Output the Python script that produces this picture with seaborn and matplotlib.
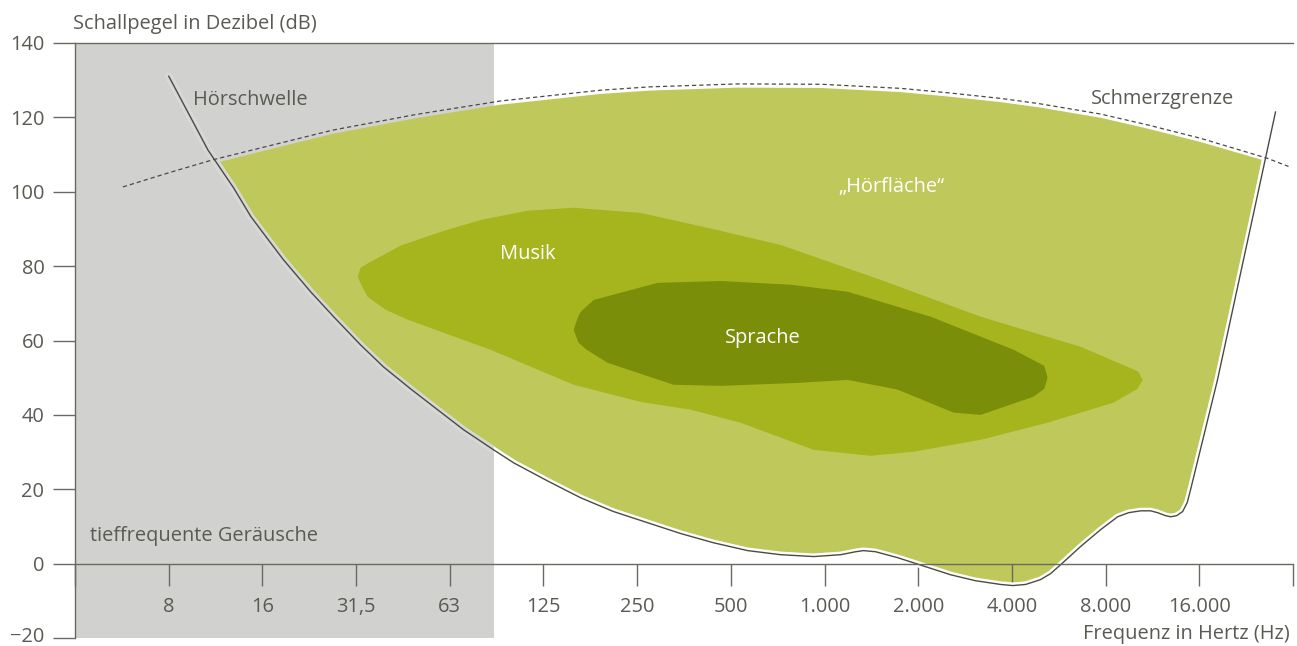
import numpy as np
import pandas as pd
import matplotlib.pyplot as plt
import matplotlib.transforms as mtransforms
import seaborn as sns
from matplotlib.ticker import NullLocator

# Hörschwelle (threshold of hearing)
hs_hz = np.array([8.0, 10.7, 12.94, 14.7, 16.64, 18.7, 22.87, 27.1, 33.1, 39.2, 47.9,
                  56.8, 70.9, 88.5, 102.7, 132.2, 168.6, 215, 276.6, 353, 450.7, 580,
                  739.7, 945, 1154, 1289, 1367, 1493, 1758, 2069, 2603, 3130, 3767,
                  4116, 4535, 5063, 5450, 5872, 6808, 7887, 8953, 9710, 10615, 11420,
                  12035, 12760, 13252, 13860, 14480, 14980, 15360, 18740, 28800])
hs_db = np.array([131.1, 111.2, 101.0, 93.3, 87.3, 81.7, 73.1, 66.4, 58.8, 52.9, 47.0,
                  42.2, 36.0, 30.6, 27.1, 22.2, 17.7, 14.0, 11.0, 8.1, 5.6, 3.5,
                  2.4, 1.9, 2.4, 3.2, 3.5, 3.2, 1.6, -0.3, -3.0, -4.6, -5.6,
                  -5.9, -5.6, -4.3, -2.7, -0.3, 4.6, 9.1, 12.6, 13.7, 14.2, 14.2,
                  13.7, 12.9, 12.6, 12.9, 14.0, 16.4, 19.9, 49.4, 121.5])

# Schmerzgrenze (threshold of pain)
pain_hz = np.array([5.7, 8, 11.1, 16, 27, 50, 93, 195, 280, 540, 1000, 1800, 2560,
                    3770, 5000, 7890, 11150, 16500, 27100, 31700])
pain_db = np.array([101.3, 105.1, 108.6, 111.9, 116.6, 120.8, 124.4, 127.3, 128.2,
                    129.0, 128.9, 127.8, 126.6, 125.1, 123.7, 120.9, 118.0, 114.4,
                    109.0, 106.8])

# corners of the "Hörfläche"
hf_corner_hz = [11.4, 26000]
hf_corner_db = [107.8, 108.6]

# Musik area outline
musik_hz = [32.4, 33.1, 35.7, 44.5, 59.8, 80.4, 113.8, 160, 262.6, 431.1, 739.7, 1551,
            3250, 6808, 9640, 10450, 10770, 10370, 8690, 5333, 3250, 1979, 1440, 945,
            740, 550, 380, 262.6, 160, 86.6, 46.9, 39.8, 34.9, 33.6]
musik_db = [77.1, 79.6, 81.2, 85.5, 89.2, 92.4, 94.9, 95.7, 94.3, 90.3, 85.7, 76.3,
            66.4, 58.3, 52.9, 51.6, 49.4, 47.0, 43.3, 37.9, 33.3, 30.1, 29.0, 30.6,
            33.9, 37.9, 41.4, 43.5, 48.1, 57.5, 65.6, 68.3, 71.7, 74.2]

# Sprache area outline
sprache_hz = [160, 164.9, 168.6, 185.6, 298, 475, 797, 1216, 2245, 4150, 5200, 5333,
              5200, 4810, 3250, 2662, 1758, 1216, 839, 475, 335, 205.8, 176.3, 166]
sprache_db = [62.9, 66.1, 67.7, 70.9, 75.5, 76.0, 75.0, 73.1, 66.4, 57.5, 53.2, 50.0,
              47.0, 44.9, 40.0, 40.6, 46.8, 49.4, 48.6, 47.8, 48.1, 54.0, 57.5, 59.4]

# low frequency band
tief_hz = [4, 89]

x_ticks = [4, 8, 16, 32, 64, 128, 256, 512, 1024, 2048, 4096, 8192, 16384, 32768]
x_labels = ['', '8', '16', '31,5', '63', '125', '250', '500', '1.000', '2.000',
            '4.000', '8.000', '16.000', '']
y_ticks = [-20, 0, 20, 40, 60, 80, 100, 120, 140]
y_labels = ['\u221220', '0', '20', '40', '60', '80', '100', '120', '140']

sns.set_theme(style="white")
plt.rcParams['font.family'] = ['Open Sans', 'DejaVu Sans']

txt = '#5a5a54'
fs = 14.4

fig, ax = plt.subplots(figsize=(12.97, 6.46), dpi=100)
fig.subplots_adjust(left=75/1297, right=1293/1297, top=1-43/646, bottom=1-638/646)

gray = ax.axvspan(tief_hz[0], tief_hz[1], color='#d1d1cf', lw=0, zorder=0.2)

# Hörfläche polygon: pain curve on top, threshold curve below
mp = (pain_hz > hf_corner_hz[0]) & (pain_hz < hf_corner_hz[1])
mt = (hs_hz > hf_corner_hz[0]) & (hs_hz < hf_corner_hz[1])
poly_x = [hf_corner_hz[0]] + list(pain_hz[mp]) + [hf_corner_hz[1]] + list(hs_hz[mt][::-1])
poly_y = [hf_corner_db[0]] + list(pain_db[mp] - 1.0) + [hf_corner_db[1]] + list(hs_db[mt][::-1])
ax.fill(poly_x, poly_y, color='#bfc85b', lw=0, zorder=0.5)
ax.fill(musik_hz, musik_db, color='#a6b41e', lw=0, zorder=0.6)
ax.fill(sprache_hz, sprache_db, color='#7b8e0a', lw=0, zorder=0.7)

hs = pd.DataFrame({'hz': hs_hz, 'db': hs_db})
sns.lineplot(data=hs, x='hz', y='db', color='white', lw=4.5, ax=ax, zorder=1.0)
sns.lineplot(data=hs, x='hz', y='db', color='#d6d6d4', lw=4.5, ax=ax, zorder=1.1)
ax.lines[-1].set_clip_path(gray)
sns.lineplot(data=hs, x='hz', y='db', color='#4a4a46', lw=1.0, ax=ax, zorder=1.5)

pain = pd.DataFrame({'hz': pain_hz, 'db': pain_db})
sns.lineplot(data=pain, x='hz', y='db', color='#4a4a46', lw=0.9, ax=ax, zorder=1.5,
             linestyle=(0, (3.4, 2.4)))

ax.set_xscale('log', base=2)
ax.set_xlim(4, 32768)
ax.set_ylim(-20, 140)
ax.set_xticks(x_ticks)
ax.set_xticklabels(x_labels)
ax.xaxis.set_minor_locator(NullLocator())
ax.set_yticks(y_ticks)
ax.set_yticklabels(y_labels)
ax.set_xlabel('')
ax.set_ylabel('')

for s in ['left', 'bottom', 'top']:
    ax.spines[s].set_color('#6a6a62')
    ax.spines[s].set_linewidth(1.0)
ax.spines['right'].set_visible(False)
ax.spines['bottom'].set_position(('data', 0))
ax.tick_params(axis='both', which='major', direction='out', length=16, width=1.0,
               color='#6a6a62', labelsize=fs, labelcolor=txt, bottom=True, left=True)
ax.tick_params(axis='x', pad=8)
ax.tick_params(axis='y', pad=6)

# lift the lowest y label a little so it stays inside the picture
lab = ax.get_yticklabels()[0]
lab.set_transform(lab.get_transform() + mtransforms.ScaledTranslation(0, 4/100, fig.dpi_scale_trans))

ax.text(9.6, 124.7, 'Hörschwelle', ha='left', va='center', fontsize=fs, color=txt, zorder=3)
ax.text(7330, 125, 'Schmerzgrenze', ha='left', va='center', fontsize=fs, color=txt, zorder=3)
ax.text(1682, 101.3, '\u201eHörfläche\u201c', ha='center', va='center', fontsize=fs,
        color='white', zorder=3)
ax.text(113.9, 83.3, 'Musik', ha='center', va='center', fontsize=fs, color='white', zorder=3)
ax.text(648, 60.7, 'Sprache', ha='center', va='center', fontsize=fs, color='white', zorder=3)
ax.text(4.46, 7.5, 'tieffrequente Geräusche', ha='left', va='center', fontsize=fs,
        color=txt, zorder=3)

fig.text(73/1297, 1-24/646, 'Schallpegel in Dezibel (dB)', ha='left', va='center',
         fontsize=fs, color=txt)
fig.text(1290/1297, 1-634/646, 'Frequenz in Hertz (Hz)', ha='right', va='center',
         fontsize=fs, color=txt)

fig.savefig('out.png', dpi=100)
